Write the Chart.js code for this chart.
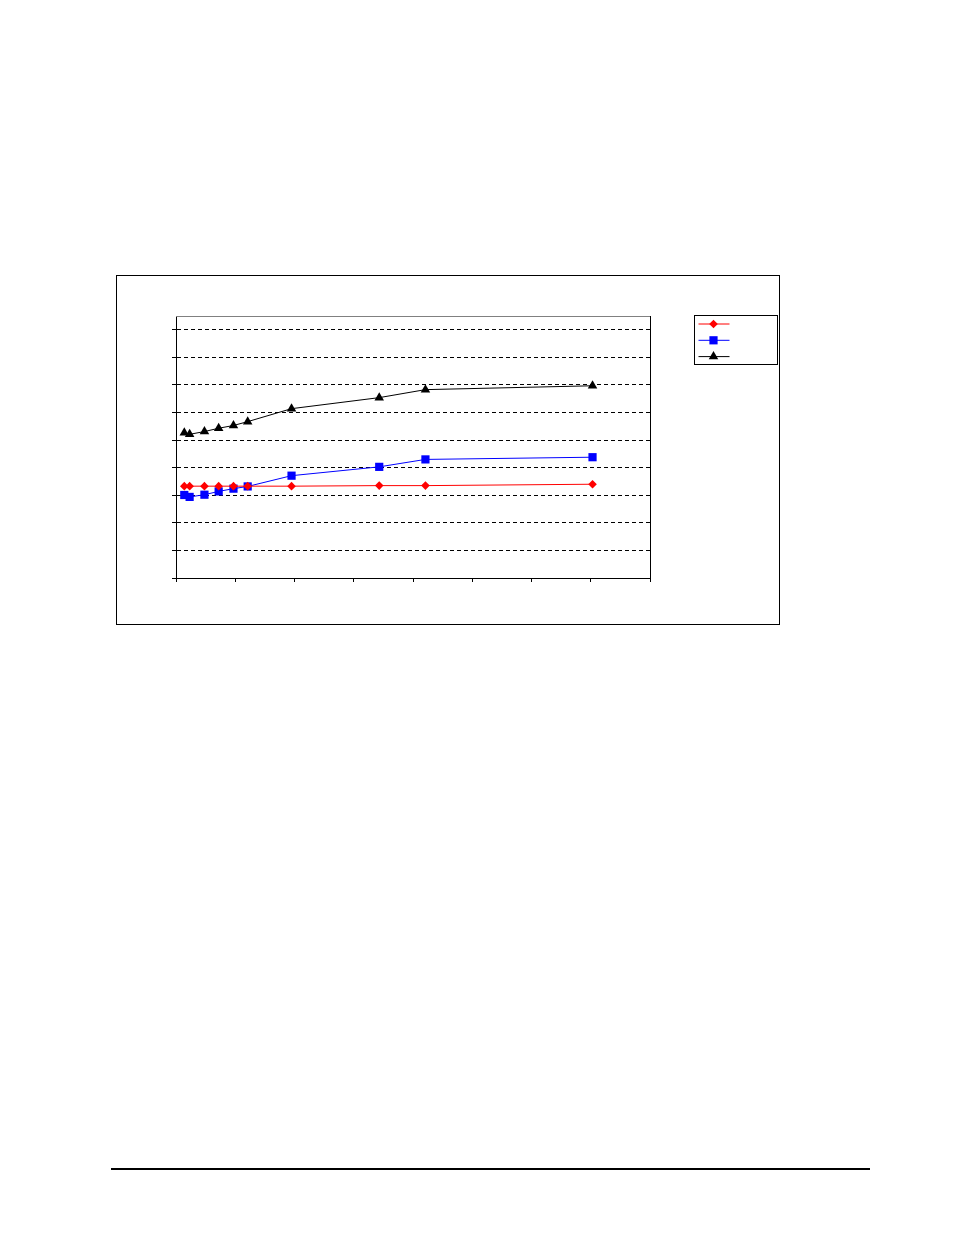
<!DOCTYPE html>
<html>
<head>
<meta charset="utf-8">
<script src="https://cdn.jsdelivr.net/npm/chart.js@4/dist/chart.umd.min.js"></script>
<style>
  html, body { margin: 0; padding: 0; background: #fff; }
  body { width: 954px; height: 1235px; position: relative; overflow: hidden; }
  #box { position: absolute; left: 116px; top: 275px; width: 664px; height: 350px;
         box-sizing: border-box; border: 1px solid #000; background: #fff; }
  #box canvas { display: block; }
  #rule { position: absolute; left: 111px; top: 1168px; width: 759px; height: 2px; background: #000; }
</style>
</head>
<body>
<div id="box"><canvas id="lineChart" width="662" height="348"></canvas></div>
<div id="rule"></div>
<script>
// x positions of the samples (shared by all three series)
const xValues = [0.14, 0.23, 0.48, 0.72, 0.97, 1.21, 1.95, 3.43, 4.21, 7.03];

// series values
const redValues = [3.33, 3.33, 3.33, 3.33, 3.33, 3.33, 3.33, 3.35, 3.35, 3.40];
const blueValues = [3.01, 2.94, 3.02, 3.14, 3.24, 3.32, 3.71, 4.03, 4.30, 4.38];
const blackValues = [5.27, 5.21, 5.31, 5.43, 5.53, 5.67, 6.14, 6.54, 6.83, 6.97];

// axis ranges / ticks (no tick labels shown in the original)
const xTicks = [0, 1, 2, 3, 4, 5, 6, 7, 8];
const yTicks = [0, 1, 2, 3, 4, 5, 6, 7, 8, 9];
const yMax = 9.5;

function toPoints(values) {
  return values.map(function (v, i) { return { x: xValues[i], y: v }; });
}

// frame (top + right edge) and the marker-only legend on the right
const framePlugin = {
  id: 'frame',
  afterDraw: function (chart) {
    const ctx = chart.ctx;
    const a = chart.chartArea;
    ctx.save();
    ctx.lineWidth = 1;
    ctx.strokeStyle = '#808080';
    ctx.beginPath();
    ctx.moveTo(a.left, Math.round(a.top) + 0.5);
    ctx.lineTo(a.right, Math.round(a.top) + 0.5);
    ctx.stroke();
    ctx.strokeStyle = '#000';
    ctx.beginPath();
    ctx.moveTo(Math.round(a.right) + 0.5, a.top);
    ctx.lineTo(Math.round(a.right) + 0.5, a.bottom);
    ctx.stroke();

    // legend box
    const lx = Math.round(a.right) + 44.5;
    const ly = Math.round(a.top) - 0.5;
    ctx.strokeStyle = '#000';
    ctx.strokeRect(lx, ly, 83, 49);
    chart.data.datasets.forEach(function (ds, i) {
      const y = ly + 8.5 + i * 16.3;
      ctx.strokeStyle = ds.borderColor;
      ctx.lineWidth = 1;
      ctx.beginPath();
      ctx.moveTo(lx + 4, y);
      ctx.lineTo(lx + 35, y);
      ctx.stroke();
      const opts = {
        pointStyle: ds.pointStyle,
        radius: ds.pointRadius,
        rotation: 0,
        borderWidth: 0
      };
      ctx.fillStyle = ds.pointBackgroundColor;
      ctx.strokeStyle = ds.pointBorderColor;
      Chart.helpers.drawPoint(ctx, opts, lx + 19, y);
    });
    ctx.restore();
  }
};

new Chart(document.getElementById('lineChart').getContext('2d'), {
  type: 'line',
  data: {
    datasets: [{
      label: '',
      data: toPoints(redValues),
      borderColor: '#ff0000',
      backgroundColor: '#ff0000',
      pointBackgroundColor: '#ff0000',
      pointBorderColor: '#ff0000',
      borderWidth: 1,
      pointStyle: 'rectRot',
      pointRadius: 4.3,
      pointBorderWidth: 0
    }, {
      label: '',
      data: toPoints(blueValues),
      borderColor: '#0000ff',
      backgroundColor: '#0000ff',
      pointBackgroundColor: '#0000ff',
      pointBorderColor: '#0000ff',
      borderWidth: 1,
      pointStyle: 'rect',
      pointRadius: 5.8,
      pointBorderWidth: 0
    }, {
      label: '',
      data: toPoints(blackValues),
      borderColor: '#000000',
      backgroundColor: '#000000',
      pointBackgroundColor: '#000000',
      pointBorderColor: '#000000',
      borderWidth: 1,
      pointStyle: 'triangle',
      pointRadius: 5.5,
      pointBorderWidth: 0
    }]
  },
  options: {
    responsive: false,
    animation: false,
    devicePixelRatio: 1,
    layout: { padding: { left: 55, right: 129, top: 40, bottom: 42 } },
    plugins: {
      legend: { display: false },
      tooltip: { enabled: false },
      title: { display: false }
    },
    scales: {
      x: {
        type: 'linear',
        min: xTicks[0],
        max: xTicks[xTicks.length - 1],
        afterBuildTicks: function (s) { s.ticks = xTicks.map(function (v) { return { value: v }; }); },
        afterFit: function (s) { s.height = 4; },
        ticks: { display: false },
        grid: { drawOnChartArea: false, drawTicks: true, tickLength: 4, tickColor: '#000', tickWidth: 1 },
        border: { display: true, color: '#000', width: 1 }
      },
      y: {
        type: 'linear',
        min: 0,
        max: yMax,
        afterBuildTicks: function (s) { s.ticks = yTicks.map(function (v) { return { value: v }; }); },
        afterFit: function (s) { s.width = 4; },
        ticks: { display: false },
        grid: {
          color: function (c) { return c.tick && c.tick.value === 0 ? 'rgba(0,0,0,0)' : '#000'; },
          lineWidth: 1,
          drawTicks: true,
          tickLength: 4,
          tickColor: '#000',
          tickWidth: 1,
          tickBorderDash: []
        },
        border: { display: true, color: '#000', width: 1, dash: [4, 3] }
      }
    }
  },
  plugins: [framePlugin]
});
</script>
</body>
</html>
